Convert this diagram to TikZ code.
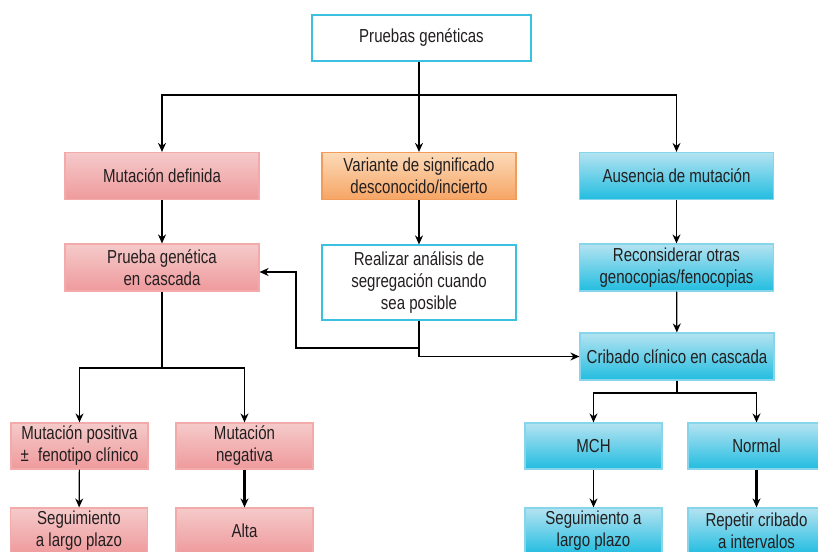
\documentclass[tikz,border=0pt]{standalone}
\usepackage{fontspec}
\setmainfont{Liberation Sans}[FakeStretch=0.8]
\usetikzlibrary{arrows.meta,calc}

\definecolor{rosaA}{HTML}{F5CACA}
\definecolor{rosaB}{HTML}{EF9A9C}
\definecolor{rosaL}{HTML}{F2AAAB}
\definecolor{narA}{HTML}{FCDAB8}
\definecolor{narB}{HTML}{F6A565}
\definecolor{narL}{HTML}{F39C5A}
\definecolor{cianA}{HTML}{B4E3F1}
\definecolor{cianB}{HTML}{22BDE0}
\definecolor{cianL}{HTML}{86D5EB}
\definecolor{cianD}{HTML}{3CC0DF}
\definecolor{tinta}{HTML}{231F20}

\tikzset{
  caja/.style={rectangle,align=center,inner sep=1pt,text=tinta,
    minimum width=97pt,minimum height=23.5pt,line width=0.6pt},
  blanca/.style={caja,draw=cianD,fill=white},
  rosa/.style={caja,draw=rosaL,top color=rosaA,bottom color=rosaB},
  naranja/.style={caja,draw=narL,top color=narA,bottom color=narB},
  cian/.style={caja,draw=cianL,top color=cianA,bottom color=cianB},
  chica/.style={minimum width=68.5pt,minimum height=23pt},
  flecha/.style={line width=0.6pt,->},
  gruesa/.style={line width=1.1pt,->}
}

\begin{document}
\begin{tikzpicture}[x=0.5pt,y=-0.5pt,line cap=butt,line join=miter,
  >={Stealth[length=4.5pt,width=4pt]},
  every node/.style={font=\fontsize{9.4}{11}\selectfont}]
  \useasboundingbox (0,0) rectangle (818,551);
  \clip (0,0) rectangle (818,551);

  % fila superior
  \node[blanca,minimum width=109.5pt,minimum height=23pt] (pg) at (421.5,38) {Pruebas genéticas};
  \node[rosa] (md) at (162,176) {Mutación definida};
  \node[naranja] (var) at (419,176) {Variante de significado\\desconocido/incierto};
  \node[cian] (am) at (676.5,176) {Ausencia de mutación};

  % segunda fila
  \node[rosa] (pc) at (162,267.5) {Prueba genética\\en cascada};
  \node[blanca,minimum height=37.5pt] (ra) at (419,282.5) {Realizar análisis de\\segregación cuando\\sea posible};
  \node[cian] (rc) at (676.5,267.5) {Reconsiderar otras\\genocopias/fenocopias};
  \node[cian] (cc) at (677,356.5) {Cribado clínico en cascada};

  % ramas inferiores
  \node[rosa,chica] (mp) at (79.5,446) {Mutación positiva\\±\enspace fenotipo clínico};
  \node[rosa,chica] (mn) at (244.5,446) {Mutación\\negativa};
  \node[rosa,chica] (sg1) at (79,531) {Seguimiento\\a largo plazo};
  \node[rosa,chica] (alta) at (244.5,531) {Alta};
  \node[cian,chica] (mch) at (593.5,446) {MCH};
  \node[cian,chica] (nor) at (756.5,446) {Normal};
  \node[cian,chica] (sg2) at (593.5,531) {Seguimiento a\\largo plazo};
  \node[cian,chica] (rep) at (756.5,531) {Repetir cribado\\a intervalos};

  \coordinate (bus1) at (419,95);
  \coordinate (j2) at (419,348);
  \coordinate (k) at (296,272);
  \coordinate (bus2) at (162,368);
  \coordinate (bus3) at (677,393);

  \draw[flecha] (var |- pg.south) -- (var);
  \draw[flecha] (bus1) -| (md);
  \draw[flecha] (bus1) -| (am);
  \draw[flecha] (md) -- (pc);
  \draw[flecha] (var) -- (ra);
  \draw[flecha] (am) -- (rc);
  \draw[flecha] (rc) -- (cc);
  \draw[line width=0.6pt] (ra) -- (j2);
  \draw[flecha] (j2) -| (k) -- (pc.east |- k);
  \draw[flecha] (j2) |- (cc);
  \draw[line width=0.6pt] (pc) -- (bus2);
  \draw[flecha] (bus2) -| (mp);
  \draw[flecha] (bus2) -| (mn);
  \draw[line width=0.6pt] (cc) -- (bus3);
  \draw[flecha] (bus3) -| (mch);
  \draw[flecha] (bus3) -| (nor);
  \draw[flecha] (mp) -- (sg1);
  \draw[gruesa] (mn) -- (alta);
  \draw[flecha] (mch) -- (sg2);
  \draw[gruesa] (nor) -- (rep);
\end{tikzpicture}
\end{document}
